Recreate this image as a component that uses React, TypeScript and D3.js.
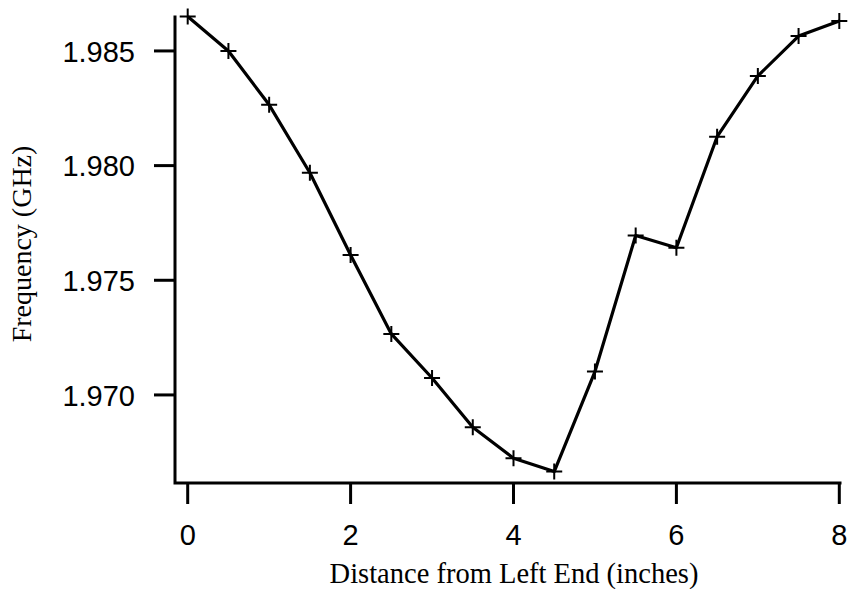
import React from "react";
import * as d3 from "d3";

// Measured resonant frequency along the rod
const positions: number[] = [0, 0.5, 1, 1.5, 2, 2.5, 3, 3.5, 4, 4.5, 5, 5.5, 6, 6.5, 7, 7.5, 8];
const frequencies: number[] = [
  1.9865, 1.985, 1.98265, 1.97969, 1.9761, 1.97266, 1.97074, 1.96859, 1.96724,
  1.96666, 1.97102, 1.97695, 1.97642, 1.98126, 1.98391, 1.98565, 1.98631,
];
const xTicks: number[] = [0, 2, 4, 6, 8];
const yTicks: number[] = [1.97, 1.975, 1.98, 1.985];

const xLabel = "Distance from Left End (inches)";
const yLabel = "Frequency (GHz)";

const W = 849;
const H = 589;

export default function App() {
  const x = d3.scaleLinear().domain([0, 8]).range([187.7, 839.3]);
  const y = d3.scaleLinear().domain([1.96616, 1.98648]).range([483, 17]);

  const axisLeft = 175;
  const axisBottom = 483;
  const axisRight = 840;
  const axisTop = 17;

  const pts = positions.map((p, i) => [x(p), y(frequencies[i])] as [number, number]);
  const line = d3.line<[number, number]>()(pts) || "";
  const fmt = d3.format(".3f");
  const sans = "'Liberation Sans', Arial, Helvetica, sans-serif";
  const serif = "'Liberation Serif', 'Times New Roman', Times, serif";

  return (
    <svg
      width={W}
      height={H}
      viewBox={`0 0 ${W} ${H}`}
      style={{ position: "absolute", left: 0, top: 0, background: "#fff" }}
    >
      {/* axes */}
      <path
        d={`M${axisLeft},${axisTop}V${axisBottom}H${axisRight}`}
        fill="none"
        stroke="#000"
        strokeWidth={3}
        strokeLinecap="square"
      />
      {yTicks.map((t) => (
        <g key={t}>
          <line x1={axisLeft - 21} x2={axisLeft} y1={y(t)} y2={y(t)} stroke="#000" strokeWidth={3} />
          <text
            x={135}
            y={y(t)}
            dy="0.37em"
            textAnchor="end"
            fontFamily={sans}
            fontSize={29}
            fill="#000"
          >
            {fmt(t)}
          </text>
        </g>
      ))}
      {xTicks.map((t) => (
        <g key={t}>
          <line x1={x(t)} x2={x(t)} y1={axisBottom} y2={axisBottom + 21} stroke="#000" strokeWidth={3} />
          <text x={x(t)} y={544.5} textAnchor="middle" fontFamily={sans} fontSize={29} fill="#000">
            {t}
          </text>
        </g>
      ))}

      {/* axis titles */}
      <text x={514} y={583} textAnchor="middle" fontFamily={serif} fontSize={28.5} fill="#000">
        {xLabel}
      </text>
      <text
        transform={`translate(31,244) rotate(-90)`}
        textAnchor="middle"
        fontFamily={serif}
        fontSize={28}
        fill="#000"
      >
        {yLabel}
      </text>

      {/* data line and markers */}
      <path d={line} fill="none" stroke="#000" strokeWidth={3.2} strokeLinejoin="round" />
      {pts.map(([px, py], i) => (
        <path
          key={i}
          d={`M${px - 8},${py}H${px + 8}M${px},${py - 8}V${py + 8}`}
          stroke="#000"
          strokeWidth={2}
          fill="none"
        />
      ))}
    </svg>
  );
}
